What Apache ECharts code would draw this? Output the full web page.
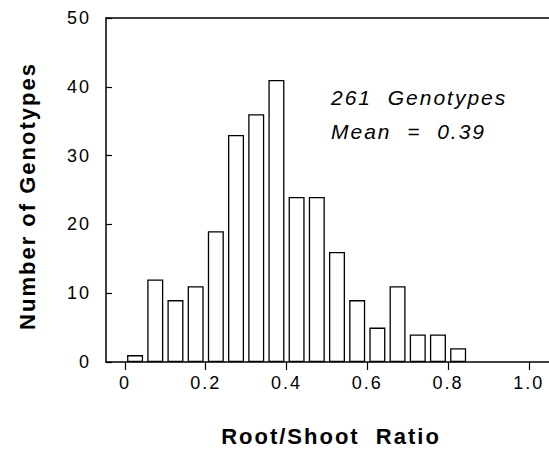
<!DOCTYPE html>
<html>
<head>
<meta charset="utf-8">
<script src="https://cdn.jsdelivr.net/npm/echarts@6/dist/echarts.min.js"></script>
<style>
  html, body { margin: 0; padding: 0; background: #fff; }
  #chart { width: 549px; height: 449px; }
  /* the figure's lettering is widely tracked */
  #chart text { letter-spacing: 2px; }
</style>
</head>
<body>
<div id="chart"></div>
<script>
// histogram bins (centre of each 0.05-wide bin) and genotype counts
const binCenters = [0.025, 0.075, 0.125, 0.175, 0.225, 0.275, 0.325, 0.375, 0.425,
  0.475, 0.525, 0.575, 0.625, 0.675, 0.725, 0.775, 0.825];
const counts = [1, 12, 9, 11, 19, 33, 36, 41, 24, 24, 16, 9, 5, 11, 4, 4, 2];
const xTicks = [0, 0.2, 0.4, 0.6, 0.8, 1.0];
const xTickLabels = ['0', '0.2', '0.4', '0.6', '0.8', '1.0'];
const noteLines = ['261  Genotypes', 'Mean  =  0.39'];

const chart = echarts.init(document.getElementById('chart'), null, { renderer: 'svg' });

const fontFamily = '"Liberation Sans", Arial, sans-serif';

const option = {
  animation: false,
  backgroundColor: '#fff',
  grid: { left: 106, right: -4, top: 18, bottom: 87 },
  xAxis: [
    {
      type: 'value',
      min: -0.047,
      max: 1.05,
      axisLine: { show: true, onZero: false, lineStyle: { color: '#000', width: 1.5 } },
      axisTick: {
        show: true, inside: false, length: 8, customValues: xTicks,
        lineStyle: { color: '#000', width: 1.2 },
      },
      axisLabel: {
        customValues: xTicks,
        margin: 12,
        fontSize: 18,
        fontFamily,
        color: '#000',
        formatter: (v) => xTickLabels[xTicks.findIndex((t) => Math.abs(t - v) < 1e-6)] ?? '',
      },
      splitLine: { show: false },
    },
    {
      type: 'value',
      position: 'top',
      min: -0.047,
      max: 1.05,
      axisLine: { show: true, onZero: false, lineStyle: { color: '#000', width: 1.5 } },
      axisTick: { show: false },
      axisLabel: { show: false },
      splitLine: { show: false },
    },
  ],
  yAxis: {
    type: 'value',
    min: 0,
    max: 50,
    interval: 10,
    axisLine: { show: true, onZero: false, lineStyle: { color: '#000', width: 1.5 } },
    axisTick: { show: true, inside: true, length: 6, lineStyle: { color: '#000', width: 1.2 } },
    axisLabel: { margin: 15, fontSize: 18, fontFamily, color: '#000' },
    splitLine: { show: false },
  },
  graphic: [
    {
      type: 'text',
      x: 27,
      y: 196,
      rotation: Math.PI / 2,
      style: {
        text: 'Number of Genotypes',
        font: `bold 22px ${fontFamily}`,
        fill: '#000',
        align: 'center',
        verticalAlign: 'middle',
      },
    },
    {
      type: 'text',
      x: 331,
      y: 436,
      style: {
        text: 'Root/Shoot  Ratio',
        font: `bold 22px ${fontFamily}`,
        fill: '#000',
        align: 'center',
        verticalAlign: 'middle',
      },
    },
    {
      type: 'text',
      x: 331,
      y: 97,
      style: {
        text: noteLines[0],
        font: `italic 21px ${fontFamily}`,
        fill: '#000',
        align: 'left',
        verticalAlign: 'middle',
      },
    },
    {
      type: 'text',
      x: 331,
      y: 131,
      style: {
        text: noteLines[1],
        font: `italic 21px ${fontFamily}`,
        fill: '#000',
        align: 'left',
        verticalAlign: 'middle',
      },
    },
  ],
  series: [
    {
      type: 'bar',
      xAxisIndex: 0,
      barWidth: 16,
      data: binCenters.map((x, i) => [x, counts[i]]),
      itemStyle: { color: '#fff', borderColor: '#000', borderWidth: 1.3 },
      emphasis: { disabled: true },
    },
  ],
};

chart.setOption(option);
</script>
</body>
</html>
